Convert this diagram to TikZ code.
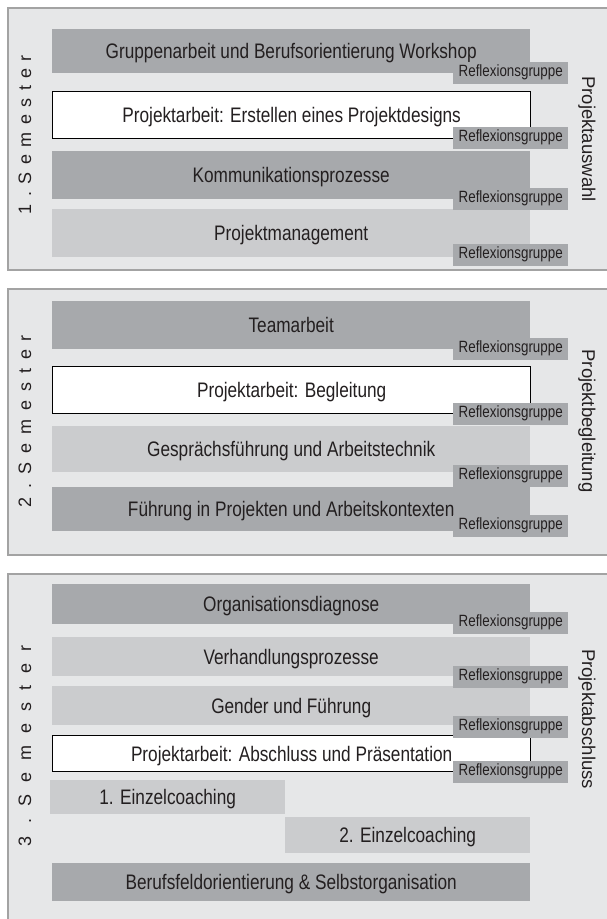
\documentclass[tikz,border=0pt]{standalone}
\usepackage{fontspec}
\setmainfont{Liberation Sans}[FakeStretch=0.82]
\newfontfamily\plainsans{Liberation Sans}
\definecolor{panelfill}{HTML}{E6E7E8}
\definecolor{panelborder}{HTML}{A3A3A3}
\definecolor{darkfill}{HTML}{A7A9AC}
\definecolor{lightfill}{HTML}{CBCCCE}
\definecolor{txt}{HTML}{231F20}
\newcommand\semtext[2]{\makebox[#2][s]{#1\hfill.\hfill S\hfill e\hfill m\hfill e\hfill s\hfill t\hfill e\hfill r}}
\tikzset{
  panel/.style={rectangle, draw=panelborder, line width=1.5pt, fill=panelfill,
    anchor=north west, inner sep=0pt, minimum width=620pt},
  course/.style={rectangle, inner sep=0pt, minimum width=478pt, anchor=north west,
    text height=15pt, text depth=0pt, text=txt,
    font=\fontsize{21}{25}\selectfont},
  darkbox/.style={course, fill=darkfill},
  lightbox/.style={course, fill=lightfill},
  whitebox/.style={course, fill=white, draw=black, line width=1.3pt},
  tagbox/.style={rectangle, inner sep=0pt, fill=darkfill, minimum width=115pt,
    minimum height=22pt, anchor=north west, text=txt,
    text height=11.7pt, text depth=4.2pt,
    font=\fontsize{16.3}{19}\selectfont},
  semlabel/.style={inner sep=0pt, rotate=90, text=txt,
    font=\plainsans\fontsize{18}{20}\selectfont},
  sidelabel/.style={inner sep=0pt, rotate=-90, text=txt,
    font=\plainsans\fontsize{18.5}{21}\selectfont},
}
\begin{document}
\begin{tikzpicture}[x=1pt,y=-1pt]
\useasboundingbox (0,0) rectangle (607,919);
\clip (0,0) rectangle (607,919);
\fill[white] (0,0) rectangle (607,919);

% panels
\node[panel, minimum height=262pt] (p1) at (7,7) {};
\node[panel, minimum height=266pt] (p2) at (7,288) {};
\node[panel, minimum height=360pt] (p3) at (7,573) {};

% semester labels
\node[semlabel] (s1) at (25,134.5) {\semtext{1}{159pt}};
\node[semlabel] (s2) at (25,421) {\semtext{2}{172pt}};
\node[semlabel] (s3) at (25,745.5) {\semtext{3}{201pt}};

% side labels
\node[sidelabel] (r1) at (587,139) {Projektauswahl};
\node[sidelabel] (r2) at (587,421) {Projektbegleitung};
\node[sidelabel] (r3) at (587,719) {Projektabschluss};

% semester 1
\node[darkbox, minimum height=44pt] (b11) at (52,29) {Gruppenarbeit und Berufsorientierung Workshop};
\node[whitebox, minimum height=47pt] (b12) at (52,91) {Projektarbeit: Erstellen eines Projektdesigns};
\node[darkbox, minimum height=48pt] (b13) at (52,151) {Kommunikationsprozesse};
\node[lightbox, minimum height=48pt] (b14) at (52,209) {Projektmanagement};
\node[tagbox] (t11) at (453,62) {Reflexionsgruppe};
\node[tagbox] (t12) at (453,127) {Reflexionsgruppe};
\node[tagbox] (t13) at (453,188) {Reflexionsgruppe};
\node[tagbox] (t14) at (453,244) {Reflexionsgruppe};

% semester 2
\node[darkbox, minimum height=48pt] (b21) at (52,301) {Teamarbeit};
\node[whitebox, minimum height=47pt] (b22) at (52,366) {Projektarbeit: Begleitung};
\node[lightbox, minimum height=46pt] (b23) at (52,426) {Gesprächsführung und Arbeitstechnik};
\node[darkbox, minimum height=44pt] (b24) at (52,487) {Führung in Projekten und Arbeitskontexten};
\node[tagbox] (t21) at (453,338) {Reflexionsgruppe};
\node[tagbox] (t22) at (453,403) {Reflexionsgruppe};
\node[tagbox] (t23) at (453,465) {Reflexionsgruppe};
\node[tagbox] (t24) at (453,515) {Reflexionsgruppe};

% semester 3
\node[darkbox, minimum height=40pt] (b31) at (52,584) {Organisationsdiagnose};
\node[lightbox, minimum height=39pt] (b32) at (52,637) {Verhandlungsprozesse};
\node[lightbox, minimum height=39pt] (b33) at (52,686) {Gender und Führung};
\node[whitebox, minimum height=36pt] (b34) at (52,735) {Projektarbeit: Abschluss und Präsentation};
\node[lightbox, minimum width=235pt, minimum height=34pt] (b35) at (50,780) {1. Einzelcoaching};
\node[lightbox, minimum width=245pt, minimum height=36pt] (b36) at (285,817) {2. Einzelcoaching};
\node[darkbox, minimum height=38pt] (b37) at (52,863) {Berufsfeldorientierung \& Selbstorganisation};
\node[tagbox] (t31) at (453,612) {Reflexionsgruppe};
\node[tagbox] (t32) at (453,666) {Reflexionsgruppe};
\node[tagbox] (t33) at (453,716) {Reflexionsgruppe};
\node[tagbox] (t34) at (453,761) {Reflexionsgruppe};
\end{tikzpicture}
\end{document}
